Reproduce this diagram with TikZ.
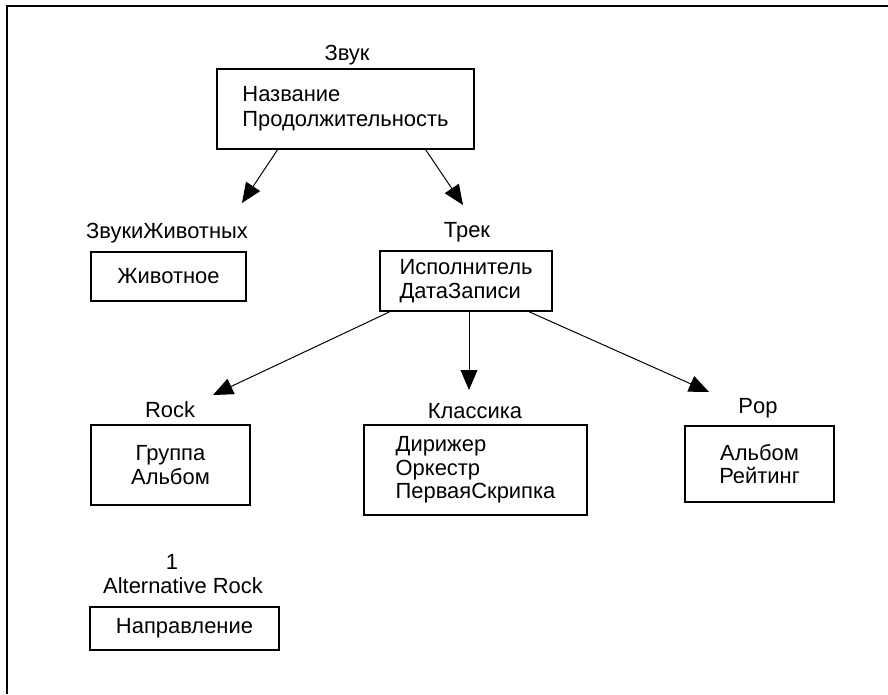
\documentclass[tikz,border=0pt]{standalone}
\usepackage{fontspec}
\setmainfont{Liberation Sans}
\usepackage{tikz}
\usetikzlibrary{arrows.meta,positioning}
\tikzset{
    entity/.style={rectangle, draw=black, line width=1.3pt, inner sep=0pt,
        font=\fontsize{15.6}{16.8}\selectfont},
    caption/.style={inner sep=0pt, text height=11.2pt, text depth=0pt,
        font=\fontsize{15.6}{16.8}\selectfont},
    flow/.style={-{Triangle[length=5mm,width=4.2mm]}, line width=0.7pt}
}

\begin{document}
\begin{tikzpicture}[x=1cm,y=1cm]
        \useasboundingbox (0,0) rectangle (22.2,-17.35);
        % frame
        \draw[line width=1.4pt] (0.175,-17.35) -- (0.175,-0.15) -- (22.2,-0.15);
        % classes
        \node[entity,minimum width=6.425cm,minimum height=2cm,align=left] at (8.6375,-2.725) (snd) {Название\\[1pt]Продолжительность};
        \node[entity,minimum width=3.875cm,minimum height=1.225cm,align=center] at (4.2125,-6.9125) (anim) {Животное};
        \node[entity,minimum width=4.3cm,minimum height=1.5cm,align=left] at (11.65,-7.025) (trk) {Исполнитель\\ДатаЗаписи};
        \node[entity,minimum width=3.975cm,minimum height=2cm,align=center] at (4.2625,-11.625) (rock) {Группа\\Альбом};
        \node[entity,minimum width=5.575cm,minimum height=2.25cm,align=left] at (11.8875,-11.75) (cls) {Дирижер\\Оркестр\\ПерваяСкрипка};
        \node[entity,minimum width=3.725cm,minimum height=1.9cm,align=center] at (18.9875,-11.6) (pop) {Альбом\\Рейтинг};
        \node[entity,minimum width=4.725cm,minimum height=1.075cm,align=center] at (4.6125,-15.7125) (alt) {Направление};
        % class names
        \node[caption] at (8.675,-1.325) (sndlbl) {Звук};
        \node[caption] at (4.175,-5.775) (animlbl) {ЗвукиЖивотных};
        \node[caption] at (11.675,-5.75) (trklbl) {Трек};
        \node[caption] at (4.25,-10.25) (rocklbl) {Rock};
        \node[caption] at (11.875,-10.275) (clslbl) {Классика};
        \node[caption] at (18.95,-10.15) (poplbl) {Pop};
        \node[caption] at (4.3,-14.05) (altnum) {1};
        \node[caption] at (4.575,-14.65) (altlbl) {Alternative Rock};
        % arrows
        \coordinate (animtip) at (6.05,-5.075);
        \coordinate (trktip) at (11.575,-5.125);
        \coordinate (rocktip) at (5.325,-9.875);
        \coordinate (clstip) at (11.725,-9.75);
        \coordinate (poptip) at (17.725,-9.8);
        \draw[flow] (snd.211) -- (animtip);
        \draw[flow] (snd.333) -- (trktip);
        \draw[flow] (trk.202) -- (rocktip);
        \draw[flow] (trk.south -| clstip) -- (clstip);
        \draw[flow] (trk.334) -- (poptip);
    \end{tikzpicture}
\end{document}
